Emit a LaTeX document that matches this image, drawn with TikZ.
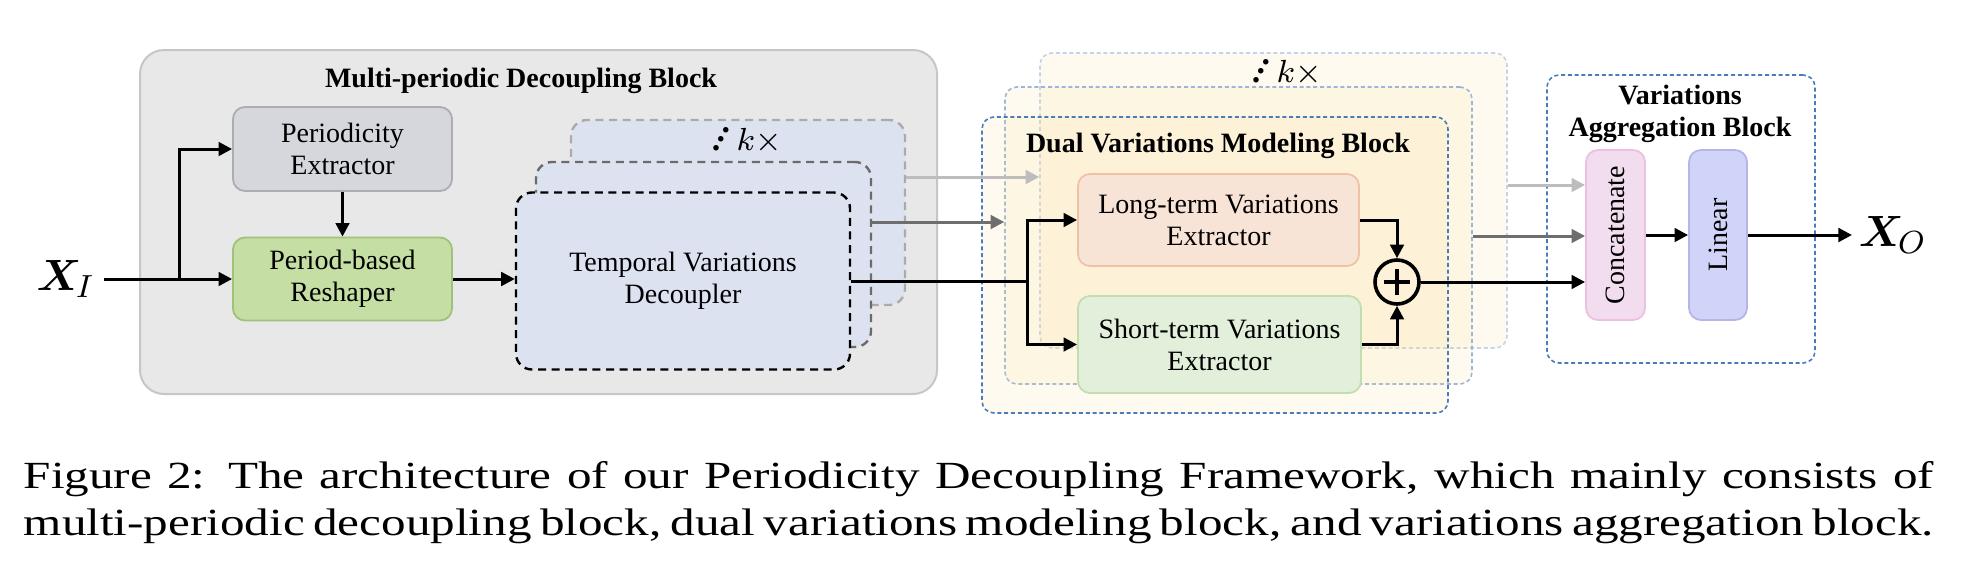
\documentclass[tikz,border=0pt]{standalone}
\usepackage{amsmath}
\usepackage{amssymb}
\usepackage{fontspec}
\setmainfont{Liberation Serif}
\newfontfamily\capfont[FakeStretch=1.28]{Liberation Serif}
\usetikzlibrary{calc}
\usetikzlibrary{arrows.meta}
\usetikzlibrary{positioning}
\tikzset{>={Triangle[length=3.4pt,width=3.4pt]}}

\definecolor{mpfill}{HTML}{E8E8E8}
\definecolor{mpdraw}{HTML}{C6C6C6}
\definecolor{pextfill}{HTML}{D6D7DC}
\definecolor{pextdraw}{HTML}{ABADB4}
\definecolor{reshfill}{HTML}{C5DEA4}
\definecolor{reshdraw}{HTML}{9FC27A}
\definecolor{decfill}{HTML}{DDE2F1}
\definecolor{dvmfill}{HTML}{F9DFA0}
\definecolor{dvmdrawA}{HTML}{4A7CBB}
\definecolor{dvmdrawB}{HTML}{9BB6D8}
\definecolor{dvmdrawC}{HTML}{C2D4E8}
\definecolor{longfill}{HTML}{F8E3D7}
\definecolor{longdraw}{HTML}{F0C2A5}
\definecolor{shortfill}{HTML}{E2EFDA}
\definecolor{shortdraw}{HTML}{C2DDB0}
\definecolor{catfill}{HTML}{F2DDEE}
\definecolor{catdraw}{HTML}{EBC0E0}
\definecolor{linfill}{HTML}{D0D4F8}
\definecolor{lindraw}{HTML}{B8B4E8}
\definecolor{lgray}{HTML}{BDBDBD}
\definecolor{dgray}{HTML}{6E6E6E}

\newcommand{\updots}{\textbf{.}\kern-0.9pt\raisebox{2.2pt}{\textbf{.}}\kern-0.9pt\raisebox{4.4pt}{\textbf{.}}}

\tikzset{
	box/.style={draw, rounded corners=3pt, line width=0.45pt, inner sep=0pt, align=center, font=\fontsize{7}{8}\selectfont},
	dec/.style={draw, fill=decfill, rounded corners=4pt, line width=0.6pt, dash pattern=on 2pt off 1.4pt, inner sep=0pt, align=center, font=\fontsize{7}{8}\selectfont},
	dvm/.style={draw, fill=dvmfill, fill opacity=0.16, rounded corners=3pt, line width=0.4pt, dash pattern=on 1pt off 0.7pt, inner sep=0pt},
	title/.style={inner sep=0pt, align=center, font=\fontsize{7}{8}\selectfont\bfseries},
	rep/.style={inner sep=0pt, font=\fontsize{8.5}{9}\selectfont},
	link/.style={line width=0.75pt}
}

\begin{document}
\begin{tikzpicture}[x=0.25pt, y=-0.25pt]
			\useasboundingbox (0,0) rectangle (1970,580);
			\coordinate (xin) at (104,279);
			\coordinate (split) at (1027,281);
			\coordinate (lgA) at (0,177);
			\coordinate (lgB) at (0,185);
			\coordinate (dgA) at (0,222);
			\coordinate (dgB) at (0,236);
			\coordinate (xout) at (1852,235);
			
			\node[draw=mpdraw, fill=mpfill, line width=0.5pt, rounded corners=6pt, minimum width=199.25pt, minimum height=86pt] (mpdb) at (538.5,222) {};
			\node[title, anchor=base] (mpdbt) at (521,87) {Multi-periodic Decoupling Block};
			\node[box, fill=pextfill, draw=pextdraw, minimum width=54.75pt, minimum height=21pt] (pext) at (342.5,149) {Periodicity\\Extractor};
			\node[box, fill=reshfill, draw=reshdraw, minimum width=54.75pt, minimum height=20.75pt] (resh) at (342.5,279) {Period-based\\Reshaper};
			
			\node[dec, draw=black!33, minimum width=83.5pt, minimum height=46.25pt] (dec3) at (738,212.5) {};
			\node[dec, draw=black!58, minimum width=83.75pt, minimum height=46.25pt] (dec2) at (703.5,254.5) {};
			\node[dec, draw=black, minimum width=83.5pt, minimum height=44.25pt] (dec1) at (683,281) {Temporal Variations\\Decoupler};
			\node[rep, anchor=base west] (deck) at (711,150) {\updots\kern1.6pt$k\times$};
			
			\node[dvm, draw=dvmdrawC, minimum width=116.75pt, minimum height=73.75pt] (dvm3) at (1273.5,200.5) {};
			\node[dvm, draw=dvmdrawB, minimum width=116.75pt, minimum height=74.25pt] (dvm2) at (1238.5,235.5) {};
			\node[dvm, draw=dvmdrawA, minimum width=116.5pt, minimum height=74pt] (dvm1) at (1215,265) {};
			\node[rep, anchor=base west] (dvmk) at (1251,82) {\updots\kern1.6pt$k\times$};
			\node[title, anchor=base] (dvmt) at (1218,152) {Dual Variations Modeling Block};
			\node[box, fill=longfill, draw=longdraw, minimum width=70.25pt, minimum height=23pt] (long) at (1218.5,220) {Long-term Variations\\Extractor};
			\node[box, fill=shortfill, draw=shortdraw, minimum width=70.75pt, minimum height=24.25pt] (short) at (1219.5,344.5) {Short-term Variations\\Extractor};
			\node[circle, draw, line width=0.9pt, minimum size=11pt, inner sep=0pt] (plus) at (1397,282) {};
			\draw[line width=0.9pt] ([xshift=-3.3pt]plus.center) -- ([xshift=3.3pt]plus.center);
			\draw[line width=0.9pt] ([yshift=-3.3pt]plus.center) -- ([yshift=3.3pt]plus.center);
			
			\node[dvm, draw=dvmdrawA, fill=none, minimum width=67pt, minimum height=72pt] (vab) at (1681,219) {};
			\node[title] (vabt) at (1680,114) {Variations\\Aggregation Block};
			\node[box, fill=catfill, draw=catdraw, minimum width=14.75pt, minimum height=42.5pt] (concat) at (1615.5,235) {\rotatebox{90}{Concatenate}};
			\node[box, fill=linfill, draw=lindraw, minimum width=14.5pt, minimum height=42.5pt] (linear) at (1718,235) {\rotatebox{90}{Linear}};
			
			\node[anchor=east, inner sep=2pt, font=\fontsize{11}{12}\selectfont] (xi) at (xin) {$\boldsymbol{X}_{\!I}$};
			\node[anchor=west, inner sep=1.5pt, font=\fontsize{11}{12}\selectfont] (xo) at (xout) {$\boldsymbol{X}_{\!O}$};
			
			\draw[link,->] (xi.east) -- (resh.west);
			\draw[link,->] (xin -| 179,0) |- (pext.west);
			\draw[link,->] (pext.south) -- (resh.north);
			\draw[link,->] (resh.east) -- (resh.east -| dec1.west);
			
			\draw[link,lgray,->] (dec3.east |- lgA) -- (dvm3.west |- lgA);
			\draw[link,dgray,->] (dec2.east |- dgA) -- (dvm2.west |- dgA);
			\draw[link] (dec1.east |- split) -- (split);
			\draw[link,->] (split) |- (long.west);
			\draw[link,->] (split) |- (short.west);
			\draw[link,->] (long.east) -| (plus.north);
			\draw[link,->] (short.east) -| (plus.south);
			
			\draw[link,lgray,->] (dvm3.east |- lgB) -- (concat.west |- lgB);
			\draw[link,dgray,->] (dvm2.east |- dgB) -- (concat.west |- dgB);
			\draw[link,->] (plus.east) -- (plus.east -| concat.west);
			\draw[link,->] (concat.east) -- (linear.west);
			\draw[link,->] (linear.east) -- (xo.west);
			
			\node[anchor=north west, inner sep=0pt, text width=477.5pt, align=justify, font=\capfont\fontsize{9.6}{11.6}\selectfont] (caption) at (23,461) {Figure 2: The architecture of our Periodicity Decoupling Framework, which mainly consists of\linebreak multi-periodic decoupling block, dual variations modeling block, and variations aggregation block.};
		\end{tikzpicture}
\end{document}
